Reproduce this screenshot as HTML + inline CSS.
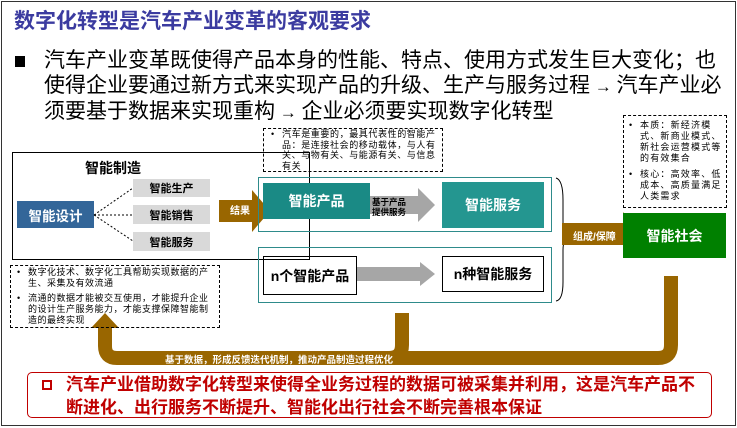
<!DOCTYPE html>
<html><head><meta charset="utf-8"><style>
*{margin:0;padding:0;box-sizing:border-box}
body{width:737px;height:428px;position:relative;background:#fff;font-family:"Liberation Sans","Noto Sans CJK SC",sans-serif;overflow:hidden}
.a{position:absolute}
.c{display:flex;align-items:center;justify-content:center;text-align:center}
.dash{border:1px dashed #000}
.note{font-size:9px;line-height:11px;color:#000}
.note li{list-style:none;position:relative;padding-left:14px}
.note li:before{content:"•";position:absolute;left:3px}
.gb{background:#d9d9d9;font-size:11px;font-weight:bold;color:#000}
</style></head><body>
<div class="a" style="left:1px;top:1px;width:735px;height:425px;border:1px solid #333"></div>
<div class="a" style="left:14px;top:5px;font-size:21px;font-weight:bold;color:#3b3ba0;white-space:nowrap">数字化转型是汽车产业变革的客观要求</div>
<div class="a" style="left:15px;top:56px;width:10px;height:11px;background:#000"></div>
<div class="a" style="left:44px;top:48px;width:688px;font-size:21px;line-height:25px;color:#000">汽车产业变革既使得产品本身的性能、特点、使用方式发生巨大变化；也使得企业要通过新方式来实现产品的升级、生产与服务过程<b style="font-size:17px"> → </b>汽车产业必须要基于数据来实现重构<b style="font-size:17px"> → </b>企业必须要实现数字化转型</div>

<div class="a" style="left:12px;top:152px;width:298px;height:108px;border:1px solid #000"></div>
<div class="a" style="left:85px;top:158px;font-size:14px;font-weight:bold">智能制造</div>
<div class="a c" style="left:17px;top:201px;width:77px;height:27px;background:#336699;color:#fff;font-size:13.5px;font-weight:bold">智能设计</div>
<div class="a c gb" style="left:133px;top:179px;width:77px;height:18px">智能生产</div>
<div class="a c gb" style="left:133px;top:205px;width:77px;height:19px">智能销售</div>
<div class="a c gb" style="left:133px;top:232px;width:77px;height:19px">智能服务</div>
<svg class="a" style="left:0;top:0" width="737" height="428">
<g stroke="#000" stroke-dasharray="2,2" fill="none">
<line x1="94" y1="215" x2="133" y2="188"/><line x1="94" y1="215" x2="133" y2="215"/><line x1="94" y1="215" x2="133" y2="241"/>
</g>
<polygon points="219,200 252,200 252,190 270,211 252,232 252,222 219,222" fill="#996600"/>
<polygon points="370,196 418,196 418,188 435,205 418,222 418,214 370,214" fill="#a6a6a6"/>
<polygon points="357,267 420,267 420,262 435,274 420,286 420,281 357,281" fill="#a6a6a6"/>
<path d="M556,178 Q563,180 563,200 L563,228 Q563,238 568,239 Q563,240 563,250 L563,282 Q563,300 556,301" stroke="#000" fill="none" stroke-width="1"/>
<polygon points="562,223 623,223 623,212 640,234 623,256 623,245 562,245" fill="#996600"/>
<path d="M671,276 L671,345 Q671,358 658,358 L117,358 Q105,358 105,346 L105,327" stroke="#996600" stroke-width="14" fill="none"/>
<path d="M402,313 L402,345 Q402,358 389,358" stroke="#996600" stroke-width="14" fill="none"/>
<polygon points="91,328 119,328 105,313" fill="#996600"/>
</svg>
<div class="a" style="left:230px;top:202px;color:#fff;font-size:10px;font-weight:bold">结果</div>
<div class="a" style="left:573px;top:228px;color:#fff;font-size:10px;font-weight:bold">组成/保障</div>
<div class="a" style="left:165px;top:352px;color:#fff;font-size:9.5px;font-weight:bold;white-space:nowrap">基于数据，形成反馈迭代机制，推动产品制造过程优化</div>
<div class="a" style="left:372px;top:197px;font-size:8.5px;line-height:10px;font-weight:bold;color:#000">基于产品<br>提供服务</div>

<div class="a dash note" style="left:10px;top:265px;width:210px;height:63px;padding:1px 3px;letter-spacing:0.5px"><ul><li style="margin-bottom:4px">数字化技术、数字化工具帮助实现数据的产生、采集及有效流通</li><li>流通的数据才能被交互使用，才能提升企业的设计生产服务能力，才能支撑保障智能制造的最终实现</li></ul></div>
<div class="a dash note" style="left:263px;top:128px;width:180px;height:44px;padding:0 4px;letter-spacing:0.6px;line-height:10.5px"><ul><li>汽车是重要的，最具代表性的智能产品：是连接社会的移动载体，与人有关、与物有关、与能源有关、与信息有关</li></ul></div>
<div class="a dash note" style="left:623px;top:115px;width:104px;height:93px;padding:4px 2px;letter-spacing:1.2px;line-height:11px"><ul><li style="margin-bottom:5px">本质：新经济模式、新商业模式、新社会运营模式等的有效集合</li><li>核心：高效率、低成本、高质量满足人类需求</li></ul></div>

<div class="a" style="left:258px;top:177px;width:294px;height:55px;border:1px solid #2e8b8b"></div>
<div class="a c" style="left:263px;top:183px;width:107px;height:36px;background:#1a8a85;color:#fff;font-size:14px;font-weight:bold">智能产品</div>
<div class="a c" style="left:442px;top:182px;width:102px;height:46px;background:#249690;color:#fff;font-size:14px;font-weight:bold">智能服务</div>
<div class="a" style="left:258px;top:247px;width:294px;height:56px;border:1px solid #2e8b8b"></div>
<div class="a c" style="left:263px;top:256px;width:94px;height:39px;border:1px solid #000;font-size:14px;font-weight:bold">n个智能产品</div>
<div class="a c" style="left:442px;top:256px;width:102px;height:36px;border:1px solid #000;font-size:14px;font-weight:bold">n种智能服务</div>
<div class="a c" style="left:623px;top:213px;width:103px;height:45px;background:#008000;color:#fff;font-size:14px;font-weight:bold">智能社会</div>

<div class="a" style="left:27px;top:372px;width:685px;height:46px;border:1.5px solid #c00000;border-radius:5px"></div>
<div class="a" style="left:42px;top:380px;width:10px;height:10px;border:2px solid #c00000"></div>
<div class="a" style="left:66px;top:373px;width:633px;font-size:17px;line-height:23px;font-weight:bold;color:#c00000">汽车产业借助数字化转型来使得全业务过程的数据可被采集并利用，这是汽车产品不断进化、出行服务不断提升、智能化出行社会不断完善根本保证</div>
</body></html>
